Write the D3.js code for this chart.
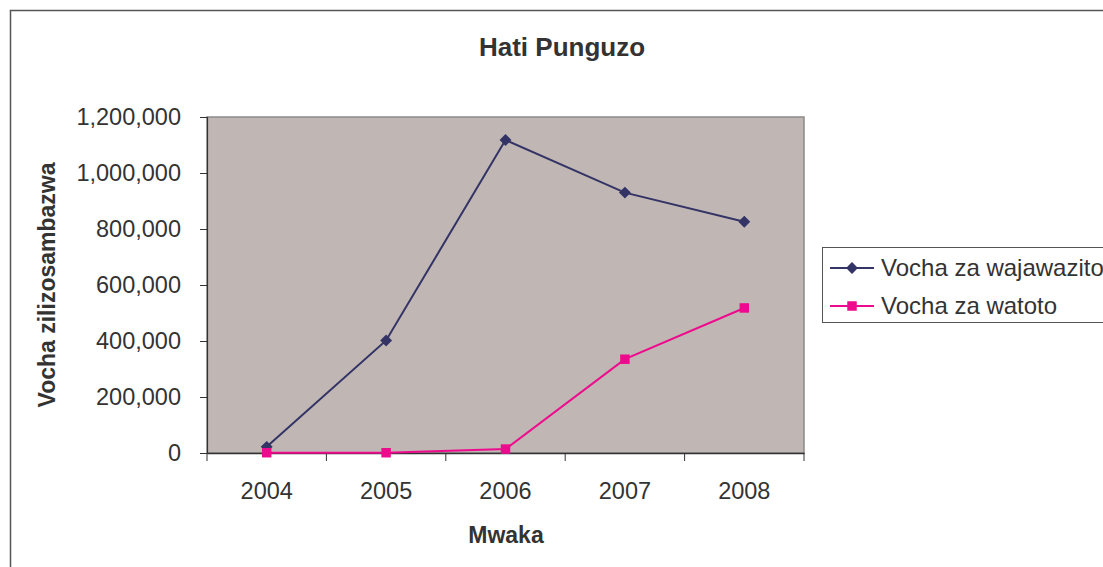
<!DOCTYPE html>
<html><head><meta charset="utf-8">
<script src="https://cdn.jsdelivr.net/npm/d3@7"></script>
<style>body{margin:0;background:#fff;}svg{display:block;font-family:"Liberation Sans",Arial,sans-serif;}</style>
</head><body><svg id="c" width="1103" height="567"></svg>
<script>
const years = ["2004","2005","2006","2007","2008"];
const seriesNames = ["Vocha za wajawazito","Vocha za watoto"];
const wajawazito = [22000, 402000, 1118000, 930000, 826000];
const watoto = [1000, 1000, 14000, 335000, 518000];
const yTicks = [0,200000,400000,600000,800000,1000000,1200000];

const svg = d3.select("#c");
const L=207,R=804,T=117,B=453;
const x = d3.scaleBand().domain(years).range([L,R]);
const y = d3.scaleLinear().domain([0,1200000]).range([B,T]);
const colors = ["#333366","#EE0A8C"];
const txt = "#333";
const FF = "Liberation Sans,Arial,sans-serif";

// outer border
svg.append("path").attr("d","M10.5,567 V10.5 H1103").attr("fill","none").attr("stroke","#555").attr("stroke-width",1.5);

// plot area
svg.append("rect").attr("x",L).attr("y",T).attr("width",R-L).attr("height",B-T)
  .attr("fill","#C0B7B4").attr("stroke","#8a8a8a").attr("stroke-width",1.5);

svg.append("text").attr("x",562).attr("y",56).attr("text-anchor","middle")
  .attr("font-size",26).attr("font-weight","bold").attr("fill",txt).text("Hati Punguzo");

// y axis
const ya = svg.append("g").attr("transform",`translate(${L},0)`)
  .call(d3.axisLeft(y).tickValues(yTicks).tickSize(7).tickPadding(19).tickFormat(d3.format(",")));
ya.select(".domain").attr("stroke","#333").attr("stroke-width",1.2);
ya.selectAll(".tick line").attr("stroke","#333");
ya.selectAll("text").attr("font-size",23.5).attr("fill",txt).attr("font-family",FF);

// x axis
const xa = svg.append("g").attr("transform",`translate(0,${B})`)
  .call(d3.axisBottom(x).tickSize(0).tickPadding(29));
xa.select(".domain").attr("stroke","#333").attr("stroke-width",1.5);
xa.selectAll("text").attr("font-size",23.5).attr("fill",txt).attr("font-family",FF);
const bounds = years.map(d=>x(d)).concat([R]);
xa.selectAll(".bt").data(bounds).enter().append("line").attr("class","bt")
  .attr("x1",d=>d).attr("x2",d=>d).attr("y1",0).attr("y2",8).attr("stroke","#333");

svg.append("text").attr("x",506).attr("y",543).attr("text-anchor","middle")
  .attr("font-size",23).attr("font-weight","bold").attr("fill",txt).text("Mwaka");
svg.append("text").attr("transform","translate(55,285) rotate(-90)").attr("text-anchor","middle")
  .attr("font-size",23).attr("font-weight","bold").attr("fill",txt).text("Vocha zilizosambazwa");

const cx = d=>x(d)+x.bandwidth()/2;
const line = d3.line().x((d,i)=>cx(years[i])).y(d=>y(d));
const diamond = d3.symbol().type(d3.symbolDiamond2).size(90);
const square = d3.symbol().type(d3.symbolSquare).size(90);

[wajawazito,watoto].forEach((data,si)=>{
  svg.append("path").attr("d",line(data)).attr("fill","none").attr("stroke",colors[si]).attr("stroke-width",2);
});
svg.selectAll(".m0").data(wajawazito).enter().append("path")
  .attr("transform",(d,i)=>`translate(${cx(years[i])},${y(d)})`).attr("d",diamond()).attr("fill",colors[0]);
svg.selectAll(".m1").data(watoto).enter().append("path")
  .attr("transform",(d,i)=>`translate(${cx(years[i])},${y(d)})`).attr("d",square()).attr("fill",colors[1]);

// legend
const lg = svg.append("g");
lg.append("rect").attr("x",822.5).attr("y",247.5).attr("width",300).attr("height",75)
  .attr("fill","#fff").attr("stroke","#555").attr("stroke-width",1);
seriesNames.forEach((n,i)=>{
  const yy = 268 + i*38;
  lg.append("line").attr("x1",830).attr("x2",874).attr("y1",yy).attr("y2",yy).attr("stroke",colors[i]).attr("stroke-width",2);
  lg.append("path").attr("transform",`translate(852,${yy})`).attr("d",(i?square:diamond)()).attr("fill",colors[i]);
  lg.append("text").attr("x",881).attr("y",yy+8).attr("font-size",24).attr("fill",txt).attr("font-family",FF).text(n);
});
</script></body></html>
